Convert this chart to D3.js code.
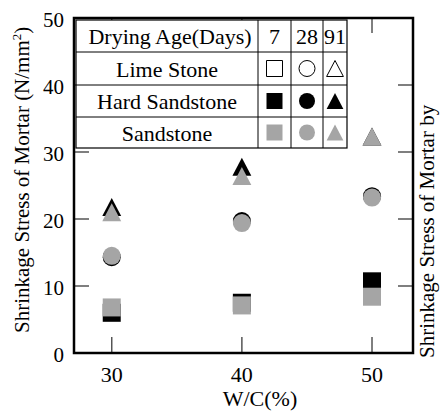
<!DOCTYPE html>
<html>
<head>
<meta charset="utf-8">
<script src="https://cdn.jsdelivr.net/npm/d3@7"></script>
<style>
  body { margin: 0; background: #fff; }
  svg text { font-family: 'Liberation Serif', 'DejaVu Serif', 'Times New Roman', Times, serif; fill: #000; }
</style>
</head>
<body>
<svg id="chart" width="443" height="412" font-family="Liberation Serif, DejaVu Serif, serif"></svg>
<script>
// data
const wc = [30, 40, 50];
const yTicks = [0, 10, 20, 30, 40, 50];
const ages = ["7", "28", "91"];
const stones = ["Lime Stone", "Hard Sandstone", "Sandstone"];
const shapes = ["square", "circle", "triangle"];

// Hard Sandstone (black)
const hard7 = [6.0, 7.5, 10.7];
const hard28 = [14.3, 19.7, 23.4];
const hard91 = [21.8, 27.8, 32.3];
// Sandstone (gray)
const sand7 = [6.8, 7.1, 8.4];
const sand28 = [14.5, 19.4, 23.2];
const sand91 = [21.0, 26.4, 32.3];

let svg = d3.select("#chart");
const plotLeft = 74, plotRight = 413, plotTop = 18, plotBottom = 353;
const gray = "#a5a5a5";

let x = d3.scaleLinear().domain([27.1, 53.15]).range([plotLeft, plotRight]);
let y = d3.scaleLinear().domain([0, 50]).range([plotBottom, plotTop]);

// marker path centred on its bounding box
function marker(shape, s) {
    let h = s / 2;
    if (shape == "square") return `M${-h},${-h}h${s}v${s}h${-s}Z`;
    if (shape == "circle") return `M${h},0A${h},${h} 0 1,1 ${-h},0A${h},${h} 0 1,1 ${h},0Z`;
    return `M0,${-h}L${h * 1.05},${h}L${-h * 1.05},${h}Z`;
}

// ticks (inward)
let ticks = svg.append("g").attr("stroke", "#555").attr("stroke-width", 1.5);
yTicks.slice(1, 5).forEach(function (v) {
    ticks.append("line").attr("x1", plotLeft).attr("x2", plotLeft + 15).attr("y1", y(v)).attr("y2", y(v));
    ticks.append("line").attr("x1", plotRight - 15).attr("x2", plotRight).attr("y1", y(v)).attr("y2", y(v));
});
wc.forEach(function (v) {
    ticks.append("line").attr("x1", x(v)).attr("x2", x(v)).attr("y1", plotBottom).attr("y2", plotBottom - 16);
    ticks.append("line").attr("x1", x(v)).attr("x2", x(v)).attr("y1", plotTop).attr("y2", plotTop + 15);
});

// points: black first, gray on top
let series = [
    {vals: hard7, shape: "square", fill: "#000"},
    {vals: hard28, shape: "circle", fill: "#000"},
    {vals: hard91, shape: "triangle", fill: "#000"},
    {vals: sand7, shape: "square", fill: gray},
    {vals: sand28, shape: "circle", fill: gray},
    {vals: sand91, shape: "triangle", fill: gray}
];
series.forEach(function (s) {
    svg.append("g").selectAll("path")
        .data(s.vals)
        .enter()
        .append("path")
        .attr("d", marker(s.shape, 18))
        .attr("transform", function (d, i) { return `translate(${x(wc[i])},${y(d)})`; })
        .attr("fill", s.fill);
});

// legend table
const colX = [76, 258, 291, 323, 347];
const rowY = [20, 52, 85, 117, 148];
let table = svg.append("g");
table.append("rect")
    .attr("x", colX[0]).attr("y", rowY[0])
    .attr("width", colX[4] - colX[0]).attr("height", rowY[4] - rowY[0])
    .attr("fill", "#fff").attr("stroke", "#000").attr("stroke-width", 1.2);
rowY.slice(1, 4).forEach(function (ry) {
    table.append("line").attr("x1", colX[0]).attr("x2", colX[4]).attr("y1", ry).attr("y2", ry)
        .attr("stroke", "#000").attr("stroke-width", 1);
});
colX.slice(1, 4).forEach(function (cx) {
    table.append("line").attr("x1", cx).attr("x2", cx).attr("y1", rowY[0]).attr("y2", rowY[4])
        .attr("stroke", "#000").attr("stroke-width", 1);
});
table.append("text")
    .attr("x", (colX[0] + colX[1]) / 2 + 3).attr("y", rowY[0] + 24)
    .attr("text-anchor", "middle").attr("font-size", 22)
    .text("Drying Age(Days)");
ages.forEach(function (a, j) {
    table.append("text")
        .attr("x", (colX[j + 1] + colX[j + 2]) / 2).attr("y", rowY[0] + 24)
        .attr("text-anchor", "middle").attr("font-size", 22)
        .text(a);
});
stones.forEach(function (name, i) {
    let cy = (rowY[i + 1] + rowY[i + 2]) / 2;
    table.append("text")
        .attr("x", (colX[0] + colX[1]) / 2).attr("y", cy + 8)
        .attr("text-anchor", "middle").attr("font-size", 22)
        .text(name);
    shapes.forEach(function (sh, j) {
        let cx = (colX[j + 1] + colX[j + 2]) / 2;
        table.append("path")
            .attr("d", marker(sh, 16))
            .attr("transform", `translate(${cx},${cy})`)
            .attr("fill", i == 0 ? "#fff" : (i == 1 ? "#000" : gray))
            .attr("stroke", i == 0 ? "#000" : "none")
            .attr("stroke-width", 1);
    });
});

// frame
svg.append("rect")
    .attr("x", plotLeft).attr("y", plotTop)
    .attr("width", plotRight - plotLeft).attr("height", plotBottom - plotTop)
    .attr("fill", "none").attr("stroke", "#000").attr("stroke-width", 2.5);

// tick labels
svg.append("g").selectAll("text")
    .data(yTicks)
    .enter()
    .append("text")
    .attr("x", 64).attr("y", function (d) { return y(d) + 9; })
    .attr("text-anchor", "end").attr("font-size", 21)
    .text(function (d) { return d; });
svg.append("g").selectAll("text")
    .data(wc)
    .enter()
    .append("text")
    .attr("x", function (d) { return x(d); }).attr("y", 382)
    .attr("text-anchor", "middle").attr("font-size", 22)
    .text(function (d) { return d; });

// axis titles
svg.append("text")
    .attr("x", 260).attr("y", 406)
    .attr("text-anchor", "middle").attr("font-size", 22)
    .text("W/C(%)");
let yt = svg.append("text")
    .attr("transform", "translate(29,333) rotate(-90)")
    .attr("font-size", 21);
yt.append("tspan").text("Shrinkage Stress of Mortar (N/mm");
yt.append("tspan").attr("font-size", 13).attr("dy", -8).text("2");
yt.append("tspan").attr("dy", 8).text(")");
svg.append("text")
    .attr("transform", "translate(434,358) rotate(-90)")
    .attr("font-size", 21)
    .text("Shrinkage Stress of Mortar by");
</script>
</body>
</html>
